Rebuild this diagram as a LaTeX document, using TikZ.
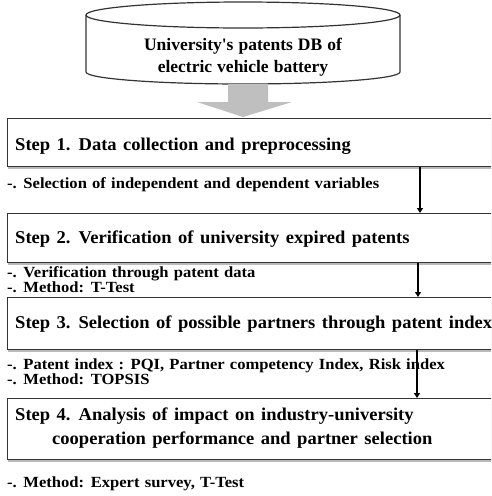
\documentclass[tikz,border=0pt]{standalone}
\usepackage{fontspec}
\setmainfont{Liberation Serif}
\newfontfamily\headfont[FakeStretch=1.03, WordSpace=1.4]{Liberation Serif}
\newfontfamily\subfont[FakeStretch=1.07, WordSpace=1.25]{Liberation Serif}
\newfontfamily\dbfont[WordSpace=1.15]{Liberation Serif}
\usetikzlibrary{shadows,arrows.meta}
\tikzset{
  x=1pt,y=1pt,
  stepbox/.style={draw=black!80, line width=1.3pt, fill=white, anchor=north west,
    minimum width=500pt, inner sep=0pt,
    drop shadow={shadow xshift=0.5pt, shadow yshift=-2.5pt, fill=black!45, opacity=0.6}},
  headtxt/.style={anchor=west, inner sep=0pt, align=left,
    font=\headfont\bfseries\fontsize{18}{24}\selectfont},
  subtxt/.style={anchor=west, inner sep=0pt, align=left,
    font=\subfont\bfseries\fontsize{15.5}{15}\selectfont},
  dbtxt/.style={inner sep=0pt, align=center,
    font=\dbfont\bfseries\fontsize{17.5}{22}\selectfont},
  arr/.style={draw=black, line width=1.2pt, -{Triangle[length=5pt,width=6pt]}},
}
\begin{document}
\begin{tikzpicture}
\clip (0,0) rectangle (491,-496);
\fill[white] (0,0) rectangle (491,-496);
% database cylinder
\filldraw[fill=white, draw=black!80, line width=1.2pt]
  (86,-15) -- (86,-72) arc[start angle=180, end angle=360, x radius=157, y radius=12]
  -- (400,-15);
\draw[black!80, line width=1.2pt, fill=white] (243,-15) ellipse[x radius=157, y radius=13];
\node[dbtxt] (db) at (243,-57) {University\textquotesingle s patents DB of\\electric vehicle battery};
% gray block arrow
\fill[black!25] (228,-84) -- (268,-84) -- (268,-102) -- (292,-102) -- (243,-117)
  -- (197,-102) -- (228,-102) -- cycle;
% step boxes
\node[stepbox, minimum height=48pt] (s1) at (7,-118) {};
\node[stepbox, minimum height=49pt] (s2) at (7,-213) {};
\node[stepbox, minimum height=52pt] (s3) at (7,-297) {};
\node[stepbox, minimum height=61pt] (s4) at (7,-398) {};
\node[headtxt] (t1) at (15,-146) {Step 1. Data collection and preprocessing};
\node[headtxt] (t2) at (15,-239) {Step 2. Verification of university expired patents};
\node[headtxt] (t3) at (15,-324) {Step 3. Selection of possible partners through patent index};
\node[headtxt] (t4) at (15,-428) {Step 4. Analysis of impact on industry-university\\\hspace*{37pt}cooperation performance and partner selection};
% sub texts
\node[subtxt] (u1) at (7,-185) {-. Selection of independent and dependent variables};
\node[subtxt] (u2) at (7,-280) {-. Verification through patent data\\-. Method: T-Test};
\node[subtxt] (u3) at (7,-372) {-. Patent index : PQI, Partner competency Index, Risk index\\-. Method: TOPSIS};
\node[subtxt] (u4) at (7,-484) {-. Method: Expert survey, T-Test};
% arrows
\draw[arr] (s1.south -| 420,0) -- (s2.north -| 420,0);
\draw[arr] (s2.south -| 418,0) -- (s3.north -| 418,0);
\draw[arr] (s3.south -| 417,0) -- (s4.north -| 417,0);
\end{tikzpicture}
\end{document}
